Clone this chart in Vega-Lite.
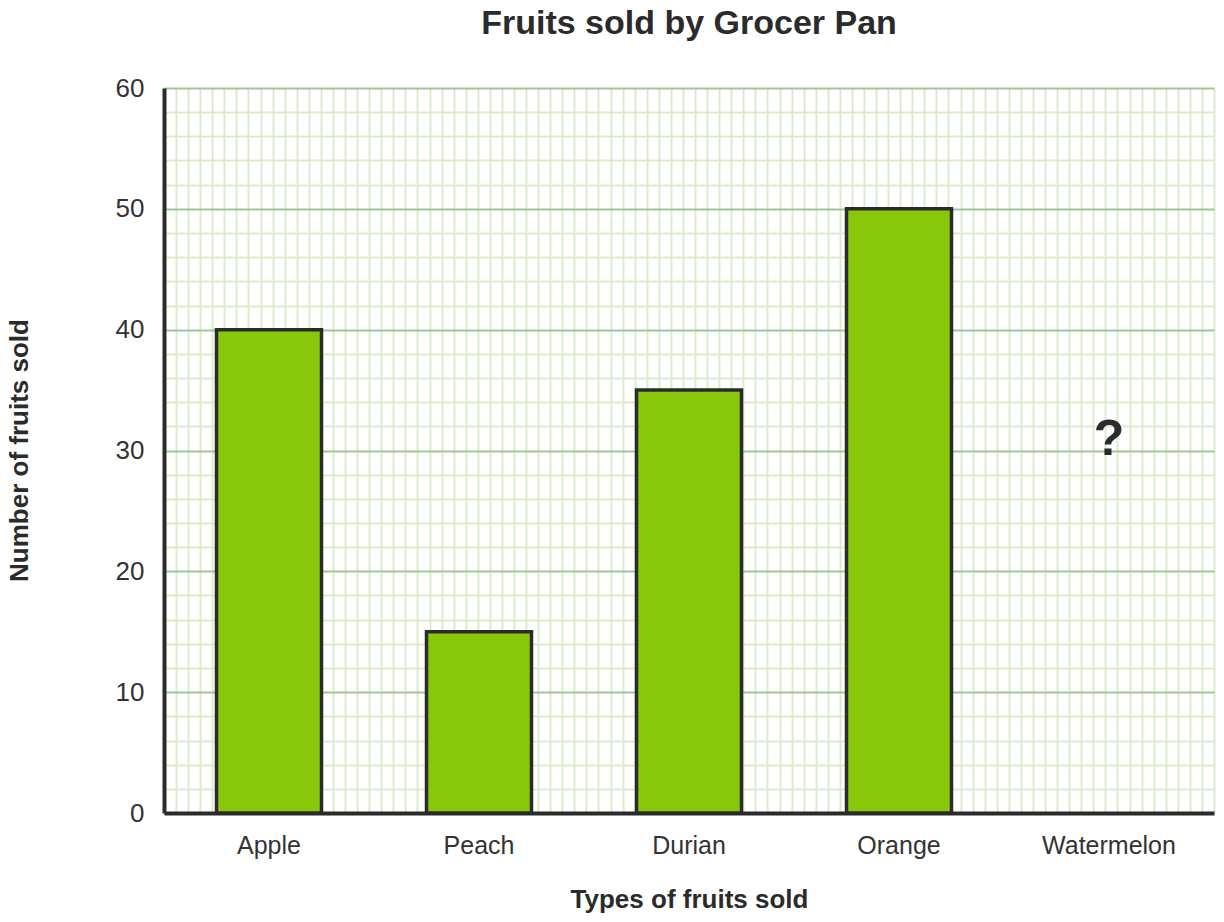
{
  "$schema": "https://vega.github.io/schema/vega-lite/v6.json",
  "width": 1050,
  "height": 725,
  "autosize": "none",
  "padding": {"left": 164, "top": 88, "right": 10, "bottom": 109},
  "title": {
    "text": "Fruits sold by Grocer Pan",
    "font": "Liberation Sans",
    "fontSize": 34,
    "fontWeight": "bold",
    "color": "#2b2b2b",
    "anchor": "middle",
    "offset": 34
  },
  "config": {
    "view": {"stroke": null},
    "font": "Liberation Sans",
    "axisY": {
      "values": [0,1,2,3,4,5,6,7,8,9,10,11,12,13,14,15,16,17,18,19,20,21,22,23,24,25,26,27,28,29,30,31,32,33,34,35,36,37,38,39,40,41,42,43,44,45,46,47,48,49,50,51,52,53,54,55,56,57,58,59,60],
      "labelExpr": "datum.value % 10 === 0 ? datum.label : ''",
      "labelOverlap": false,
      "labelFontSize": 26,
      "labelColor": "#333333",
      "labelPadding": 20,
      "ticks": false,
      "domain": true,
      "domainColor": "#2b2b2b",
      "domainWidth": 4,
      "grid": true,
      "gridOpacity": 1,
      "gridWidth": 2,
      "gridColor": {
        "condition": {"test": "datum.value % 10 === 0", "value": "#9fc59c"},
        "value": "#dcebcb"
      },
      "titleFontSize": 26,
      "titleFontWeight": "bold",
      "titleColor": "#2b2b2b",
      "titleX": -145,
      "titleY": 362,
      "titleAngle": -90,
      "titleBaseline": "middle",
      "titleAlign": "center"
    }
  },
  "data": {
    "values": [
      {"fruit": "Apple", "sold": 40},
      {"fruit": "Peach", "sold": 15},
      {"fruit": "Durian", "sold": 35},
      {"fruit": "Orange", "sold": 50},
      {"fruit": "Watermelon", "sold": null, "note": "?"}
    ]
  },
  "resolve": {"scale": {"x": "independent"}, "axis": {"x": "independent"}},
  "layer": [
    {
      "mark": {"type": "point", "opacity": 0},
      "encoding": {
        "x": {
          "field": "sold",
          "type": "quantitative",
          "scale": {"domain": [0, 87], "nice": false, "zero": true},
          "axis": {
            "orient": "top",
            "values": [0,1,2,3,4,5,6,7,8,9,10,11,12,13,14,15,16,17,18,19,20,21,22,23,24,25,26,27,28,29,30,31,32,33,34,35,36,37,38,39,40,41,42,43,44,45,46,47,48,49,50,51,52,53,54,55,56,57,58,59,60,61,62,63,64,65,66,67,68,69,70,71,72,73,74,75,76,77,78,79,80,81,82,83,84,85,86,87],
            "grid": true,
            "gridColor": "#dcebcb",
            "gridWidth": 2,
            "gridOpacity": 1,
            "labels": false,
            "ticks": false,
            "domain": false,
            "title": null
          }
        },
        "y": {
          "field": "sold",
          "type": "quantitative",
          "scale": {"domain": [0, 60], "nice": false},
          "title": "Number of fruits sold"
        }
      }
    },
    {
      "encoding": {
        "x": {
          "field": "fruit",
          "type": "nominal",
          "sort": null,
          "scale": {"paddingInner": 0.5, "paddingOuter": 0.25},
          "axis": {
            "orient": "bottom",
            "title": "Types of fruits sold",
            "titleFontSize": 26,
            "titleFontWeight": "bold",
            "titleColor": "#2b2b2b",
            "titlePadding": 28,
            "labelAngle": 0,
            "labelFontSize": 25,
            "labelColor": "#333333",
            "labelPadding": 20,
            "ticks": false,
            "domain": true,
            "domainColor": "#2b2b2b",
            "domainWidth": 4,
            "grid": false
          }
        }
      },
      "layer": [
        {
          "mark": {"type": "bar", "fill": "#88c70a", "stroke": "#2b2b2b", "strokeWidth": 3.5},
          "encoding": {
            "y": {
              "field": "sold",
              "type": "quantitative",
              "scale": {"domain": [0, 60], "nice": false},
              "title": "Number of fruits sold"
            }
          }
        },
        {
          "transform": [{"filter": "datum.note != null"}],
          "mark": {"type": "text", "fontSize": 50, "fontWeight": "bold", "color": "#2b2b2b", "baseline": "alphabetic"},
          "encoding": {
            "y": {"datum": 29.6},
            "text": {"field": "note"}
          }
        }
      ]
    }
  ]
}
